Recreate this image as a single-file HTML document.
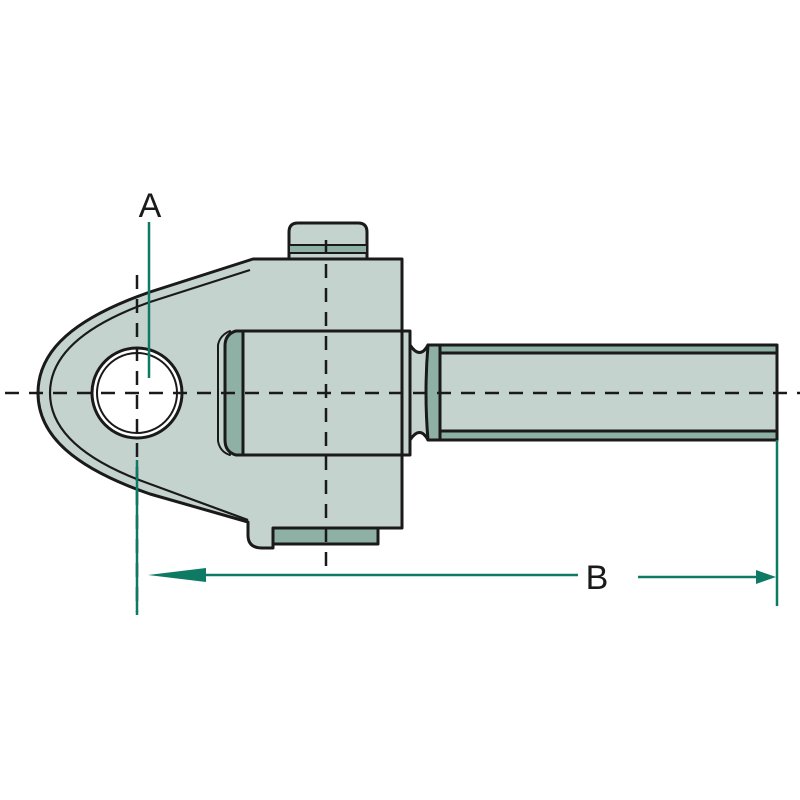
<!DOCTYPE html>
<html><head><style>body{margin:0;background:#fff}svg{display:block}</style></head><body>
<svg width="800" height="800" viewBox="0 0 800 800" xmlns="http://www.w3.org/2000/svg">
<g stroke="#1a1a1a" stroke-width="3" stroke-linejoin="round">
<!-- top knob -->
<path d="M289 259 V232 Q289 223 298 223 H358 Q367 223 367 232 V259 Z" fill="#c5d3cf"/>
<rect x="289" y="245" width="78" height="8" fill="#8fb0a5" stroke-width="2"/>
<!-- bottom plate -->
<rect x="273" y="526" width="105" height="18" fill="#8fb0a5"/>
<!-- body -->
<path d="M253 259 H402 V528 H273 V548 H262 Q248 548 248 535 L248 522 L150 494 C75 468 38 436 38 393 C38 350 75 318 150 292 Z" fill="#c5d3cf"/>
<path d="M250 270 L150 302 C85 325 50 355 50 393 C50 431 85 461 150 484 L248 520" fill="none" stroke-width="2.2"/>
<!-- hole -->
<circle cx="137" cy="393" r="45" fill="#fff"/>
<circle cx="137" cy="393" r="40" fill="none" stroke-width="2"/>
<!-- cylinder -->
<path d="M230 331 Q220 335 218 345 V441 Q220 452 230 455 Z" fill="#c5d3cf" stroke-width="2"/>
<path d="M243 331 H236 Q225 334 225 346 V440 Q225 452 236 455 H243 Z" fill="#8fb0a5"/>
<rect x="243" y="331" width="167" height="124" fill="#c5d3cf"/>
<line x1="402" y1="331" x2="402" y2="455"/>
<!-- neck -->
<path d="M410 345 Q420 360 428 345 V440 Q420 425 410 440 Z" fill="#c5d3cf"/>
<path d="M428 345 L440 345 V440 L428 440 Q424 393 428 345 Z" fill="#8fb0a5"/>
<!-- rod -->
<rect x="440" y="345" width="337" height="95" fill="#8fb0a5"/>
<rect x="440" y="353" width="337" height="78" fill="#c5d3cf"/>
</g>
<!-- centre lines -->
<g stroke="#1a1a1a" stroke-width="2.5" stroke-dasharray="14 10" fill="none">
<line x1="5" y1="393" x2="800" y2="393"/>
<line x1="137" y1="275" x2="137" y2="612"/>
<line x1="326" y1="240" x2="326" y2="570"/>
</g>
<!-- dimension lines -->
<g stroke="#0e7a63" stroke-width="2.5" fill="none">
<line x1="149" y1="222" x2="149" y2="378"/>
<line x1="137" y1="460" x2="137" y2="615"/>
<line x1="777" y1="440" x2="777" y2="606"/>
<line x1="160" y1="575" x2="578" y2="575"/>
<line x1="638" y1="577" x2="765" y2="577"/>
</g>
<polygon points="148,575 206,568 206,582" fill="#0e7a63"/>
<polygon points="776,577 756,570 756,584" fill="#0e7a63"/>
<text x="150" y="217" font-family="Liberation Sans, sans-serif" font-size="34" text-anchor="middle" fill="#1a1a1a">A</text>
<text x="597" y="589" font-family="Liberation Sans, sans-serif" font-size="34" text-anchor="middle" fill="#1a1a1a">B</text>
</svg>
</body></html>
